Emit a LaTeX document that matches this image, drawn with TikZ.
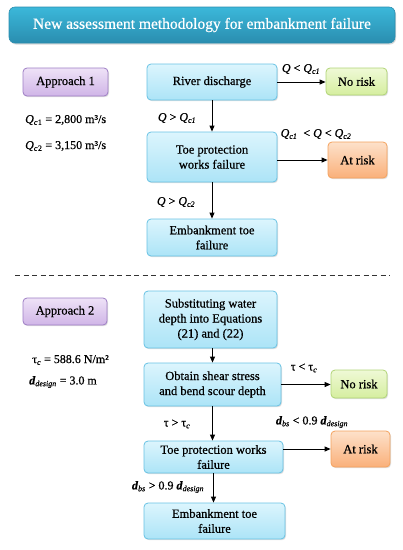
\documentclass[tikz,border=0pt]{standalone}
\usepackage{fontspec}
\setmainfont{Liberation Serif}[RawFeature={embolden=0.6}]
\usetikzlibrary{arrows.meta,shadows}
\definecolor{titletop}{HTML}{3BB8DA}
\definecolor{titlebot}{HTML}{2A8DAF}
\definecolor{bluetop}{HTML}{DCF5FD}
\definecolor{bluebot}{HTML}{ACE4F7}
\definecolor{blueedge}{HTML}{68C2E4}
\definecolor{greentop}{HTML}{EFF9D6}
\definecolor{greenbot}{HTML}{D5EE9F}
\definecolor{greenedge}{HTML}{B0D476}
\definecolor{orangetop}{HTML}{FDE1CA}
\definecolor{orangebot}{HTML}{FAB07A}
\definecolor{orangeedge}{HTML}{F4A25E}
\definecolor{purpletop}{HTML}{EEE2F7}
\definecolor{purplebot}{HTML}{D0B5E7}
\definecolor{purpleedge}{HTML}{9D7DC4}
\newcommand{\itx}[1]{\textit{#1}}
\newcommand{\subi}[1]{\textsubscript{\textit{#1}}}
\tikzset{
  base/.style={rounded corners=4pt, line width=0.8pt, align=center, inner sep=2pt,
    font=\fontsize{12.5}{15}\selectfont,
    drop shadow={shadow xshift=1pt, shadow yshift=-1.2pt, opacity=0.25}},
  bluebox/.style={base, draw=blueedge, top color=bluetop, bottom color=bluebot},
  greenbox/.style={base, draw=greenedge, top color=greentop, bottom color=greenbot},
  orangebox/.style={base, draw=orangeedge, top color=orangetop, bottom color=orangebot},
  purplebox/.style={base, draw=purpleedge, top color=purpletop, bottom color=purplebot},
  titlebox/.style={rounded corners=6pt, draw=titlebot, line width=0.6pt, top color=titletop, bottom color=titlebot,
    text=white, font=\fontsize{15.5}{18}\selectfont,
    drop shadow={shadow xshift=1pt, shadow yshift=-1.5pt, opacity=0.3}},
  arr/.style={-{Triangle[length=6pt,width=5pt]}, line width=1pt, black},
  lbl/.style={font=\fontsize{12}{14}\selectfont, inner sep=0pt},
  info/.style={font=\fontsize{12}{14}\selectfont, inner sep=0pt, anchor=west},
}
\begin{document}
\begin{tikzpicture}[x=1pt,y=-1pt]
\useasboundingbox (0,0) rectangle (403,550);
% title
\node[titlebox, minimum width=386pt, minimum height=36pt] (title) at (202,25) {New assessment methodology for embankment failure};
% approach 1
\node[purplebox, minimum width=85pt, minimum height=28pt] (ap1) at (65.5,82) {Approach 1};
\node[info] (qc1) at (25,120) {\itx{Q}\subi{c}\textsubscript{1} = 2,800 m³/s};
\node[info] (qc2) at (25,146) {\itx{Q}\subi{c}\textsubscript{2} = 3,150 m³/s};
\node[bluebox, minimum width=130pt, minimum height=36pt] (river) at (212,82) {River discharge};
\node[greenbox, minimum width=61pt, minimum height=27pt] (nr1) at (356.5,81.5) {No risk};
\node[bluebox, minimum width=130pt, minimum height=50pt] (toe1) at (212,157) {Toe protection\\works failure};
\node[orangebox, minimum width=59pt, minimum height=36pt] (ar1) at (357.5,160) {At risk};
\node[bluebox, minimum width=130pt, minimum height=37pt] (emb1) at (212,237.5) {Embankment toe\\failure};
\draw[arr] (river.east) -- (river.east -| nr1.west);
\draw[arr] (river.south) -- (toe1.north);
\draw[arr] (toe1.east |- ar1.west) -- (ar1.west);
\draw[arr] (toe1.south) -- (emb1.north);
\node[lbl] (l1) at (301,69) {\itx{Q} < \itx{Q}\subi{c1}};
\node[lbl] (l2) at (177,118) {\itx{Q} > \itx{Q}\subi{c1}};
\node[lbl] (l3) at (316,134) {\itx{Q}\subi{c1}\ \ < \itx{Q} < \itx{Q}\subi{c2}};
\node[lbl] (l4) at (176,202) {\itx{Q} > \itx{Q}\subi{c2}};
% dashed separator
\coordinate (d1) at (15,275);
\coordinate (d2) at (390,275);
\draw[dashed, dash pattern=on 5pt off 3.5pt, line width=0.8pt, black!80] (d1) -- (d2);
% approach 2
\node[purplebox, minimum width=84pt, minimum height=27pt] (ap2) at (65,311.5) {Approach 2};
\node[info] (tc) at (32,360) {τ\subi{c} = 588.6 N/m²};
\node[info] (dd) at (29,382) {\textbf{\itx{d}}\subi{design} = 3.0 m};
\node[bluebox, minimum width=133pt, minimum height=57pt] (sub) at (210.5,319.5) {Substituting water\\depth into Equations\\(21) and (22)};
\node[bluebox, minimum width=137pt, minimum height=43pt] (obt) at (212.5,384.5) {Obtain shear stress\\and bend scour depth};
\node[greenbox, minimum width=56pt, minimum height=28pt] (nr2) at (359,384) {No risk};
\node[bluebox, minimum width=139pt, minimum height=32pt] (toe2) at (213.5,457) {Toe protection works\\failure};
\node[orangebox, minimum width=59pt, minimum height=36pt] (ar2) at (360.5,449) {At risk};
\node[bluebox, minimum width=141pt, minimum height=36pt] (emb2) at (214.5,521) {Embankment toe\\failure};
\draw[arr] (sub.south -| obt.north) -- (obt.north);
\draw[arr] (obt.east) -- (obt.east -| nr2.west);
\draw[arr] (obt.south) -- (obt.south |- toe2.north);
\draw[arr] (toe2.east |- ar2.west) -- (ar2.west);
\draw[arr] (toe2.south) -- (toe2.south |- emb2.north);
\node[lbl] (l5) at (304,368) {τ < τ\subi{c}};
\node[lbl] (l6) at (177,424) {τ > τ\subi{c}};
\node[lbl] (l7) at (312,422) {\textbf{\itx{d}}\subi{bs} < 0.9 \textbf{\itx{d}}\subi{design}};
\node[lbl] (l8) at (168,487) {\textbf{\itx{d}}\subi{bs} > 0.9 \textbf{\itx{d}}\subi{design}};
\end{tikzpicture}
\end{document}
